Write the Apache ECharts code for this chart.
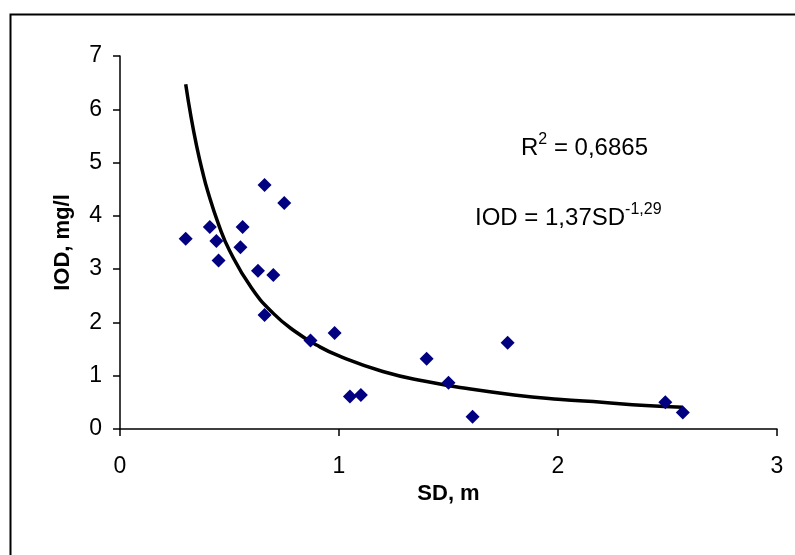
<!DOCTYPE html>
<html>
<head>
<meta charset="utf-8">
<script src="https://cdn.jsdelivr.net/npm/echarts@6/dist/echarts.min.js"></script>
<style>
html,body{margin:0;padding:0;background:#fff;}
#chart{width:795px;height:555px;}
</style>
</head>
<body>
<div id="chart"></div>
<script>
// Observed data (SD, m ; IOD, mg/l)
var sdValues  = [0.30, 0.41, 0.44, 0.45, 0.55, 0.56, 0.63, 0.66, 0.66, 0.70, 0.75, 0.87, 0.98, 1.05, 1.10, 1.40, 1.50, 1.61, 1.77, 2.49, 2.57];
var iodValues = [3.57, 3.79, 3.53, 3.16, 3.41, 3.79, 2.97, 4.58, 2.14, 2.89, 4.24, 1.66, 1.80, 0.61, 0.64, 1.32, 0.87, 0.23, 1.62, 0.50, 0.31];
// Trend line
var trendX = [0.30, 0.325, 0.35, 0.375, 0.40, 0.45, 0.50, 0.60, 0.70, 0.80, 0.90, 1.00, 1.20, 1.40, 1.60, 1.80, 2.00, 2.20, 2.40, 2.57];
var trendY = [6.47, 5.84, 5.31, 4.86, 4.47, 3.84, 3.35, 2.65, 2.17, 1.83, 1.57, 1.37, 1.08, 0.89, 0.75, 0.64, 0.56, 0.50, 0.44, 0.41];
var xTicks = [0, 1, 2, 3];
var yTicks = [0, 1, 2, 3, 4, 5, 6, 7];

var FONT = 'Liberation Sans, Arial, sans-serif';
var scatterData = sdValues.map(function (x, i) { return [x, iodValues[i]]; });
var trendData = trendX.map(function (x, i) { return [x, trendY[i]]; });

var richStyle = {
  a: {fontFamily: FONT, fontSize: 24, fontWeight: 'normal', color: '#000', lineHeight: 28, verticalAlign: 'bottom'},
  s: {fontFamily: FONT, fontSize: 16, fontWeight: 'normal', color: '#000', lineHeight: 16, verticalAlign: 'top'}
};

var chart = echarts.init(document.getElementById('chart'), null, {renderer: 'canvas'});
chart.setOption({
  backgroundColor: '#ffffff',
  animation: false,
  grid: {left: 120, right: 18, top: 56, bottom: 126, containLabel: false},
  title: [
    {
      text: '{a|R}{s|2}{a| = 0,6865}',
      left: 516, top: 127,
      textStyle: {fontWeight: 'normal', rich: richStyle}
    },
    {
      text: '{a|IOD = 1,37SD}{s|-1,29}',
      left: 470, top: 197,
      textStyle: {fontWeight: 'normal', rich: richStyle}
    }
  ],
  graphic: [
    {
      type: 'rect', left: 8, top: 12, silent: true,
      shape: {width: 800, height: 560},
      style: {fill: 'none', stroke: '#000', lineWidth: 2}
    }
  ],
  xAxis: {
    type: 'value', min: xTicks[0], max: xTicks[xTicks.length - 1], interval: 1,
    name: 'SD, m', nameLocation: 'middle', nameGap: 54,
    nameTextStyle: {fontFamily: FONT, fontSize: 22, fontWeight: 'bold', color: '#000'},
    axisLine: {show: true, onZero: false, lineStyle: {color: '#000', width: 1.5}},
    axisTick: {show: true, inside: false, length: 7, lineStyle: {color: '#000', width: 1.5}},
    axisLabel: {fontFamily: FONT, fontSize: 23, color: '#000', margin: 26},
    splitLine: {show: false}
  },
  yAxis: {
    type: 'value', min: yTicks[0], max: yTicks[yTicks.length - 1], interval: 1,
    name: 'IOD, mg/l', nameLocation: 'middle', nameGap: 46, nameRotate: 90,
    nameTextStyle: {fontFamily: FONT, fontSize: 22, fontWeight: 'bold', color: '#000'},
    axisLine: {show: true, onZero: false, lineStyle: {color: '#000', width: 1.5}},
    axisTick: {show: true, inside: false, length: 7, lineStyle: {color: '#000', width: 1.5}},
    axisLabel: {fontFamily: FONT, fontSize: 23, color: '#000', margin: 18},
    splitLine: {show: false}
  },
  series: [
    {
      type: 'line', data: trendData, smooth: true, showSymbol: false, symbol: 'none',
      lineStyle: {color: '#000', width: 3.5}, z: 2, silent: true
    },
    {
      type: 'scatter', data: scatterData, symbol: 'diamond', symbolSize: [14, 14],
      itemStyle: {color: '#000080', opacity: 1}, z: 3
    }
  ]
});
</script>
</body>
</html>
